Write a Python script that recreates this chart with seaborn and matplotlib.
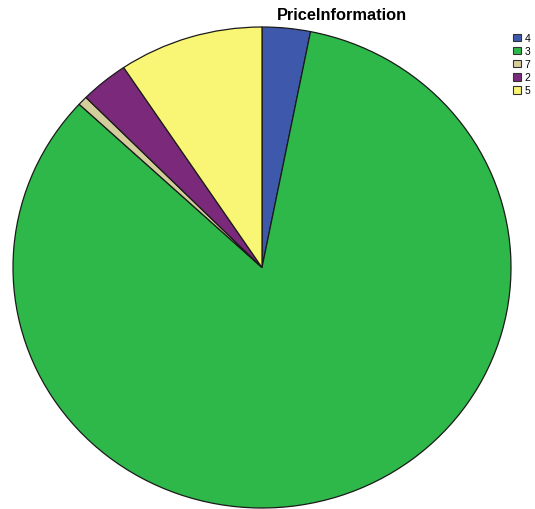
import matplotlib
matplotlib.use("Agg")
import matplotlib.pyplot as plt
from matplotlib.patches import Patch
import seaborn as sns

# Response counts per price-information category
categories = ["4", "3", "7", "2", "5"]
counts = [5, 134, 1, 5, 15]
colors = ["#3E58AC", "#2EB84A", "#D4CE9C", "#7B2A7B", "#FAF675"]

sns.set_style("white")
plt.rcParams["font.family"] = ["Liberation Sans", "DejaVu Sans"]
plt.rcParams["text.color"] = "black"

fig = plt.figure(figsize=(5.35, 5.10), dpi=100)
ax = fig.add_axes([13 / 535, 1 / 510, 498 / 535, 481 / 510])

wedges, _ = ax.pie(
    counts,
    colors=colors,
    startangle=90,
    counterclock=False,
    wedgeprops=dict(edgecolor="#1a1a1a", linewidth=0.9),
)
ax.set_aspect("auto")
ax.set_xlim(-1, 1)
ax.set_ylim(-1, 1)
ax.axis("off")

fig.text(342 / 535, 1 - 15 / 510, "PriceInformation", ha="center", va="center",
         fontsize=11.8, fontweight="bold", color="black")

handles = [Patch(facecolor=c, edgecolor="#333333", linewidth=0.8) for c in colors]
fig.legend(
    handles, categories,
    loc="upper left",
    bbox_to_anchor=(513 / 535, 1 - 34 / 510),
    frameon=False,
    fontsize=7.5,
    handlelength=0.75,
    handleheight=0.75,
    handletextpad=0.35,
    labelspacing=0.3,
    borderpad=0.0,
    borderaxespad=0.0,
)

fig.savefig("out.png", dpi=100)
